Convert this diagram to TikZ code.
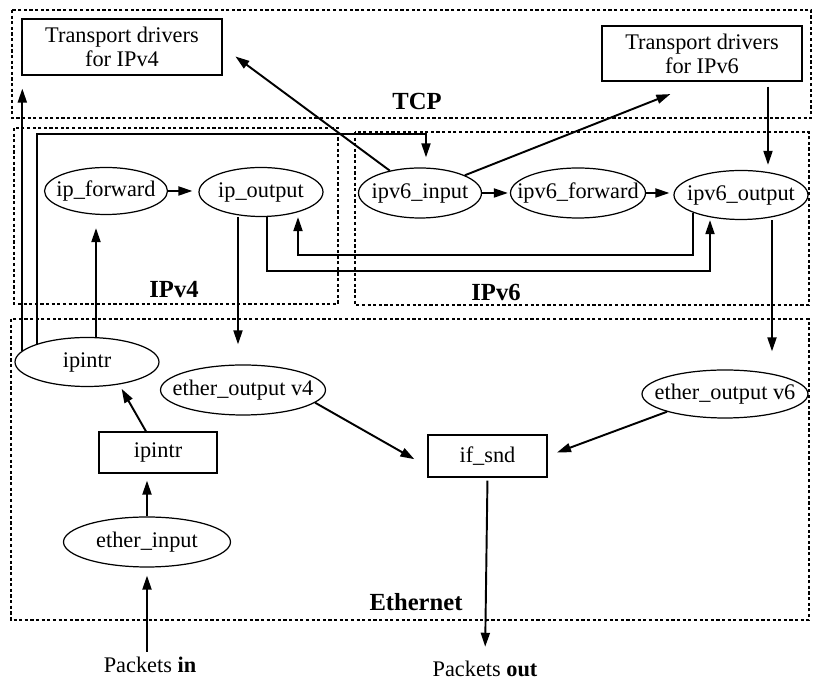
\documentclass[tikz,border=0pt]{standalone}
\usepackage{fontspec}
\setmainfont{Liberation Serif}
\usetikzlibrary{shapes,arrows.meta}

\begin{document}
\begin{tikzpicture}[
    x=0.02cm, y=-0.02cm,
    box/.style={rectangle, draw, line width=0.7pt, inner sep=0pt, font=\fontsize{12.7}{13.6}\selectfont, align=center},
    oval/.style={ellipse, draw, line width=0.7pt, inner xsep=-0.3cm, inner ysep=0pt, font=\fontsize{12.7}{13.6}\selectfont},
    zone/.style={draw, line width=0.6pt, dash pattern=on 1.8pt off 1.4pt},
    zonelabel/.style={font=\fontsize{14}{16}\selectfont\bfseries},
    plain/.style={inner sep=0pt, font=\fontsize{12.7}{13.6}\selectfont},
    arrow/.style={-{Triangle[length=0.28cm, width=0.18cm]}, line width=1.1pt}
]
    \useasboundingbox (0,0) rectangle (823,685);

    % Layers
    \draw[zone] (12,10) rectangle (811,118);
    \draw[zone] (14,128) rectangle (338,304);
    \draw[zone] (355,132) rectangle (809,305);
    \draw[zone] (11,319) rectangle (809,620);
    \node[zonelabel] (tcp) at (417,101) {TCP};
    \node[zonelabel] (ipv4) at (174,290) {IPv4};
    \node[zonelabel] (ipv6) at (496,292) {IPv6};
    \node[zonelabel] (ether) at (416,602) {Ethernet};

    % Transport
    \node[box, minimum width=4cm, minimum height=1.12cm] (trv4) at (122,47) {Transport drivers\\for IPv4};
    \node[box, minimum width=4cm, minimum height=1.1cm] (trv6) at (702,53.5) {Transport drivers\\for IPv6};

    % IP layer
    \node[oval, minimum width=2.46cm, minimum height=0.94cm] (ipfwd) at (106,191) {ip\_forward};
    \node[oval, minimum width=2.48cm, minimum height=0.98cm] (ipout) at (261,192) {ip\_output};
    \node[oval, minimum width=2.46cm, minimum height=1cm] (ipv6in) at (420,193) {ipv6\_input};
    \node[oval, minimum width=2.7cm, minimum height=1cm] (ipv6fwd) at (578,193) {ipv6\_forward};
    \node[oval, minimum width=2.68cm, minimum height=0.98cm] (ipv6out) at (741,195) {ipv6\_output};

    % Ethernet layer
    \node[oval, minimum width=2.88cm, minimum height=0.98cm] (ipintr) at (87,362) {ipintr};
    \node[oval, minimum width=3.3cm, minimum height=1cm] (etherv4) at (243,390) {ether\_output v4};
    \node[oval, minimum width=3.32cm, minimum height=0.96cm] (etherv6) at (725,394) {ether\_output v6};
    \node[box, minimum width=2.36cm, minimum height=0.82cm] (ipbox) at (158,452.5) {ipintr};
    \node[box, minimum width=2.38cm, minimum height=0.84cm] (ifsnd) at (487.5,456) {if\_snd};
    \node[oval, minimum width=3.34cm, minimum height=1cm] (etherin) at (147,542) {ether\_input};

    % Packets
    \node[plain] (pin) at (150,665) {Packets \textbf{in}};
    \node[plain] (pout) at (485,669) {Packets \textbf{out}};

    % Bends
    \coordinate (loopR) at (426,134);
    \coordinate (up4) at (96,300);
    \coordinate (lowA) at (267,271);
    \coordinate (lowB) at (710,271);
    \coordinate (midB) at (298,255);
    \coordinate (drop4) at (238,300);
    \coordinate (drop6) at (772,300);
    \coordinate (v6down) at (768,120);

    % Arrows
    \draw[arrow, shorten >=0.26cm] (ipintr.170) -- (ipintr.170 |- trv4.south);
    \draw[arrow, shorten >=0.2cm] (ipintr.160) |- (loopR) -- (ipv6in.north -| loopR);
    \draw[arrow, shorten >=0.26cm] (ipintr.north -| up4) -- (ipfwd.south -| up4);
    \draw[arrow, shorten >=0.12cm] (ipfwd.east) -- (ipout.west |- ipfwd.east);
    \draw[arrow, shorten >=0.04cm] (ipv6in.east) -- (ipv6fwd.west);
    \draw[arrow, shorten >=0.08cm] (ipv6fwd.east) -- (ipv6out.west |- ipv6fwd.east);
    \draw[arrow] (ipout.south -| lowA) -- (lowA) -- (lowB) -- (ipv6out.south -| lowB);
    \draw[arrow] (ipv6out.200) |- (midB) -- (ipout.south -| midB);
    \draw[arrow, shorten >=0.32cm] (ipv6in) -- (trv4.east);
    \draw[arrow, shorten >=0.68cm] (ipv6in) -- (trv6.south);
    \draw[arrow, shorten <=0.1cm, shorten >=0.1cm] (trv6.south -| v6down) -- (ipv6out.north -| v6down);
    \draw[arrow, shorten >=0.4cm] (ipout.south -| drop4) -- (etherv4.north -| drop4);
    \draw[arrow, shorten >=0.36cm] (ipv6out.south -| drop6) -- (etherv6.north -| drop6);
    \draw[arrow, shorten <=0.1cm, shorten >=0.16cm] (pin.north -| etherin) -- (etherin.south);
    \draw[arrow, shorten >=0.14cm] (etherin.north) -- (etherin.north |- ipbox.south);
    \draw[arrow, shorten >=0.1cm] ([xshift=-0.24cm]ipbox.north) -- (ipintr.325);
    \draw[arrow, shorten >=0.3cm] (etherv4.-10) -- (ifsnd.190);
    \draw[arrow, shorten >=0.2cm] (etherv6.197) -- (ifsnd.east);
    \draw[arrow, shorten <=0.06cm, shorten >=0.28cm] (ifsnd.south) -- (pout.north);
\end{tikzpicture}
\end{document}
